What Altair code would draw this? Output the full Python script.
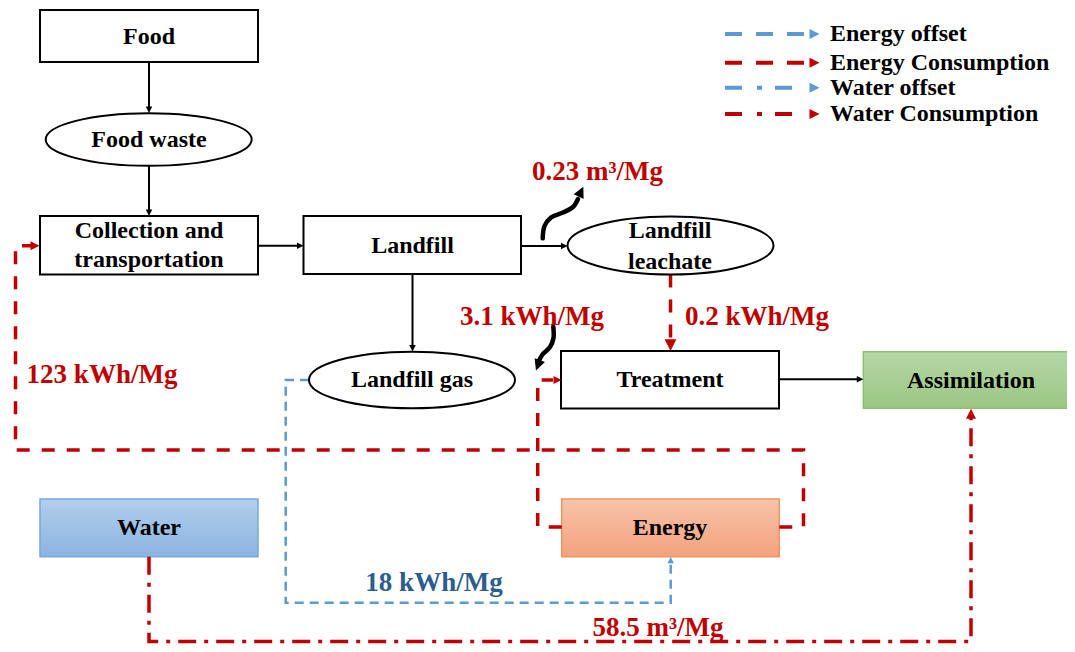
import altair as alt
import pandas as pd

# ---------------- canvas (page pixel coordinates) ----------------
W, H = 1059, 636
X0, Y0 = 8, 8
FONT = "Liberation Serif"
RED = "#c00000"
BLUE = "#5b9bd5"
DARKBLUE = "#2c5d8f"

# ---------------- nodes ----------------
rect_names = ["Food", "Collection", "Landfill", "Treatment"]
rect_x1 = [40, 40, 303.5, 561]
rect_x2 = [258, 258, 521, 779]
rect_y1 = [10, 216, 216, 351]
rect_y2 = [62, 274.5, 274, 408.5]

ell_names = ["Food waste", "Landfill leachate", "Landfill gas"]
ell_cx = [148.7, 670.5, 412]
ell_cy = [139.5, 245.5, 380]
ell_rx = [103, 103, 103]
ell_ry = [26.3, 29, 28.3]

color_names = ["Water", "Energy", "Assimilation"]
color_x1 = [40, 561.7, 863.3]
color_x2 = [258, 779.3, 1075]
color_y1 = [499, 499, 351.7]
color_y2 = [556.7, 556.7, 408.3]
color_top = ["#b1ceec", "#f6c3a9", "#b5d7a5"]
color_bottom = ["#8cb4e1", "#f3a27e", "#9ac683"]
color_edge = ["#78a8dc", "#f0955f", "#8dc075"]

node_text = ["Food", "Food waste", "Collection and", "transportation", "Landfill",
             "Landfill", "leachate", "Landfill gas", "Treatment", "Assimilation",
             "Water", "Energy"]
node_tx = [149, 149, 149, 149, 412.5, 670, 670, 412, 670, 971, 149, 670]
node_ty = [37, 140, 231, 260, 246, 230.7, 261.7, 380, 380, 381, 528, 528]

# ---------------- flow labels ----------------
flow_text = ["0.23 m³/Mg", "3.1 kWh/Mg", "0.2 kWh/Mg", "123 kWh/Mg", "18 kWh/Mg", "58.5 m³/Mg"]
flow_tx = [597.5, 532, 757, 102, 434, 658]
flow_ty = [171.7, 316.7, 316.7, 375, 583.3, 628]
flow_color = [RED, RED, RED, RED, DARKBLUE, RED]

# ---------------- connectors ----------------
black_paths = [
    [(149, 62), (149, 108)],
    [(149, 165.8), (149, 211)],
    [(258, 245.7), (298, 245.7)],
    [(412.5, 274), (412.5, 346)],
    [(521, 246), (562, 246)],
    [(779, 379.3), (858, 379.3)],
]
black_tip_x = [149, 149, 303.5, 412.5, 567.5, 863.3]
black_tip_y = [113, 216, 245.7, 351.5, 246, 379.3]
black_tip_angle = [180, 180, 90, 180, 90, 90]

energy_use_paths = [
    [(779.3, 527), (803.5, 527), (803.5, 450), (15.5, 450), (15.5, 245.7), (31, 245.7)],
    [(561.7, 527), (537.7, 527), (537.7, 380), (553, 380)],
    [(670.5, 274.5), (670.5, 341)],
]
energy_offset_paths = [
    [(309, 380), (285.7, 380), (285.7, 602.7), (670.7, 602.7), (670.7, 562)],
]
water_use_paths = [
    [(149, 556.7), (149, 641.5), (971, 641.5), (971, 418)],
]
curve_up = [(542.7, 238.3), (544.5, 226), (551, 217.5), (563, 212.5), (573, 207), (578, 199)]
curve_down = [(553.3, 326.7), (553.5, 338), (550, 347), (542.5, 354.5), (538.8, 361)]

head_x = [39.5, 561.5, 670.5, 971, 670.7, 583.3, 536]
head_y = [245.7, 380, 351, 408.7, 557, 186.7, 370.5]
head_angle = [90, 90, 180, 0, 0, 25, 200]
head_size = [81, 64, 140, 100, 40, 121, 121]
head_color = [RED, RED, RED, RED, BLUE, "black", "black"]

# ---------------- legend ----------------
legend_labels = ["Energy offset", "Energy Consumption", "Water offset", "Water Consumption"]
legend_y = [34, 62.7, 87.7, 114]
legend_colors = [BLUE, RED, BLUE, RED]
legend_dash = [[17, 14], [17, 14], [17, 15, 5, 13], [17, 15, 5, 13]]
legend_x_end = [810, 810, 792, 792]
legend_x_start = 725
legend_tip_x = 819.5
legend_text_x = 830

ARROW = "M0,0L-1,2L1,2Z"

xs = alt.Scale(domain=[X0, X0 + W], nice=False, zero=False)
ys = alt.Scale(domain=[Y0, Y0 + H], nice=False, zero=False, reverse=True)


def X(f="x"):
    return alt.X(f"{f}:Q", scale=xs, axis=None)


def Y(f="y"):
    return alt.Y(f"{f}:Q", scale=ys, axis=None)


def path_frame(paths, tag):
    rows = []
    for pid, pts in enumerate(paths):
        for i, (x, y) in enumerate(pts):
            rows.append({"pid": f"{tag}{pid}", "i": i, "x": x, "y": y})
    return pd.DataFrame(rows)


def line_layer(df, **mark):
    return alt.Chart(df).mark_line(**mark).encode(
        x=X(), y=Y(), detail="pid:N", order="i:Q"
    )


layers = []

rect_df = pd.DataFrame({"name": rect_names, "x": rect_x1, "x2": rect_x2, "y": rect_y1, "y2": rect_y2})
layers.append(
    alt.Chart(rect_df).mark_rect(fill="white", stroke="black", strokeWidth=2).encode(
        x=X(), x2="x2:Q", y=Y(), y2="y2:Q"
    )
)

for i, nm in enumerate(color_names):
    df = pd.DataFrame({"name": [nm], "x": [color_x1[i]], "x2": [color_x2[i]],
                       "y": [color_y1[i]], "y2": [color_y2[i]]})
    grad = alt.LinearGradient(
        gradient="linear",
        stops=[alt.GradientStop(color=color_top[i], offset=0),
               alt.GradientStop(color=color_bottom[i], offset=1)],
        x1=0, x2=0, y1=0, y2=1,
    )
    layers.append(
        alt.Chart(df).mark_rect(fill=grad, stroke=color_edge[i], strokeWidth=1.5).encode(
            x=X(), x2="x2:Q", y=Y(), y2="y2:Q"
        )
    )

layers.append(line_layer(path_frame(black_paths, "b"), color="black", strokeWidth=2))
layers.append(line_layer(path_frame(energy_use_paths, "eu"), color=RED, strokeWidth=3.5,
                         strokeDash=[13, 12]))
layers.append(line_layer(path_frame(energy_offset_paths, "eo"), color=BLUE, strokeWidth=2.5,
                         strokeDash=[9, 6]))
layers.append(line_layer(path_frame(water_use_paths, "wu"), color=RED, strokeWidth=3.5,
                         strokeDash=[18, 8, 4, 8]))
layers.append(line_layer(path_frame([curve_up, curve_down], "c"), color="black", strokeWidth=4.5,
                         interpolate="catmull-rom", strokeCap="round"))

ell_df = pd.DataFrame({
    "name": ell_names, "x": ell_cx, "y": ell_cy,
    "shape": [f"M-1,0A1,{ry / rx:.4f} 0 1,1 1,0A1,{ry / rx:.4f} 0 1,1 -1,0Z"
              for rx, ry in zip(ell_rx, ell_ry)],
    "size": [(2 * rx) ** 2 for rx in ell_rx],
})
layers.append(
    alt.Chart(ell_df).mark_point(filled=True, fill="white", stroke="black", strokeWidth=2,
                                 opacity=1, fillOpacity=1, strokeOpacity=1).encode(
        x=X(), y=Y(),
        shape=alt.Shape("shape:N", scale=None),
        size=alt.Size("size:Q", scale=None),
    )
)

bh_df = pd.DataFrame({"x": black_tip_x, "y": black_tip_y, "angle": black_tip_angle,
                      "size": [42] * len(black_tip_x), "color": ["black"] * len(black_tip_x)})
hd_df = pd.DataFrame({"x": head_x, "y": head_y, "angle": head_angle, "size": head_size,
                      "color": head_color})
heads = pd.concat([bh_df, hd_df], ignore_index=True)
layers.append(
    alt.Chart(heads).mark_point(filled=True, shape=ARROW, opacity=1, strokeWidth=0).encode(
        x=X(), y=Y(),
        angle=alt.Angle("angle:Q", scale=None),
        size=alt.Size("size:Q", scale=None),
        color=alt.Color("color:N", scale=None),
    )
)

nt_df = pd.DataFrame({"t": node_text, "x": node_tx, "y": node_ty})
layers.append(
    alt.Chart(nt_df).mark_text(font=FONT, fontWeight="bold", fontSize=24, color="black",
                               align="center", baseline="middle").encode(
        x=X(), y=Y(), text="t:N"
    )
)

fl_df = pd.DataFrame({"t": flow_text, "x": flow_tx, "y": flow_ty, "c": flow_color})
layers.append(
    alt.Chart(fl_df).mark_text(font=FONT, fontWeight="bold", fontSize=27,
                               align="center", baseline="middle").encode(
        x=X(), y=Y(), text="t:N", color=alt.Color("c:N", scale=None)
    )
)

for i, lab in enumerate(legend_labels):
    df = pd.DataFrame({"pid": [f"lg{i}"] * 2, "i": [0, 1],
                       "x": [legend_x_start, legend_x_end[i]], "y": [legend_y[i]] * 2})
    layers.append(line_layer(df, color=legend_colors[i], strokeWidth=4,
                             strokeDash=legend_dash[i]))
lg_head = pd.DataFrame({"x": [legend_tip_x] * 4, "y": legend_y, "c": legend_colors})
layers.append(
    alt.Chart(lg_head).mark_point(filled=True, shape=ARROW, angle=90, size=100, opacity=1,
                                  strokeWidth=0).encode(
        x=X(), y=Y(), color=alt.Color("c:N", scale=None)
    )
)
lg_text = pd.DataFrame({"t": legend_labels, "x": [legend_text_x] * 4, "y": legend_y})
layers.append(
    alt.Chart(lg_text).mark_text(font=FONT, fontWeight="bold", fontSize=24, color="black",
                                 align="left", baseline="middle").encode(
        x=X(), y=Y(), text="t:N"
    )
)

chart = (
    alt.layer(*layers)
    .properties(width=W, height=H, padding=0, autosize=alt.AutoSizeParams(type="none"))
    .configure_view(stroke=None)
)
chart.save("out.html", embed_options={"renderer": "svg", "actions": False})
